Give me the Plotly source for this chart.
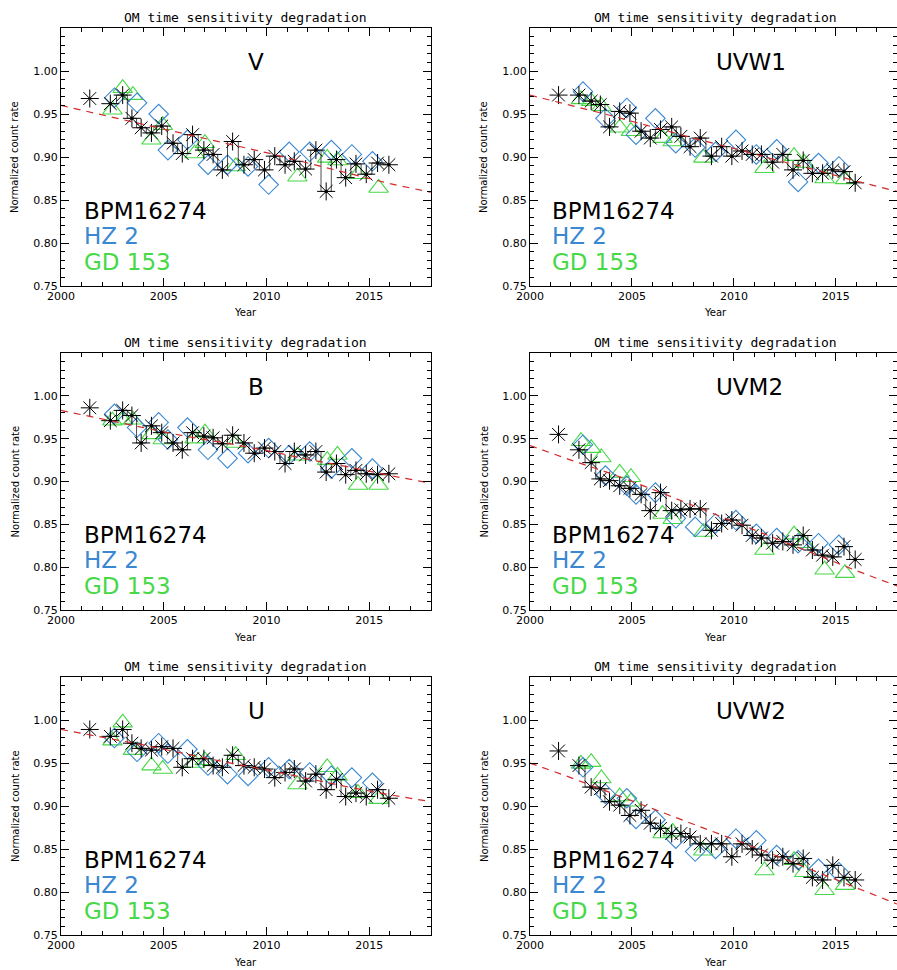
import plotly.graph_objects as go

# ---------------- data ----------------
FILTERS = ["V", "UVW1", "B", "UVM2", "U", "UVW2"]
STARS = ["BPM16274", "HZ 2", "GD 153"]

YEARS_BPM = [2001.4, 2002.4, 2003.0, 2003.45, 2003.9, 2004.4, 2004.9, 2005.45, 2005.9,
             2006.4, 2006.95, 2007.4, 2007.85, 2008.35, 2008.9, 2009.4, 2009.9, 2010.4,
             2010.9, 2011.35, 2011.9, 2012.4, 2012.9, 2013.4, 2013.85, 2014.35, 2014.85,
             2015.4, 2015.95]

BPM_V = [0.968, 0.962, 0.972, 0.945, 0.934, 0.928, 0.936, 0.916, 0.904, 0.926, 0.908, 0.903,
         0.885, 0.918, 0.891, 0.897, 0.885, 0.901, 0.891, 0.895, 0.886, 0.908, 0.860, 0.897,
         0.876, 0.892, 0.880, 0.893, 0.891]
BPM_UVW1 = [0.972, 0.972, 0.965, 0.961, 0.935, 0.953, 0.951, 0.930, 0.922, 0.932, 0.935, 0.924,
            0.912, 0.922, 0.901, 0.912, 0.901, 0.907, 0.903, 0.903, 0.894, 0.903, 0.885, 0.896,
            0.881, 0.881, 0.885, 0.883, 0.870]
BPM_B = [0.986, 0.971, 0.983, 0.977, 0.945, 0.965, 0.957, 0.945, 0.937, 0.957, 0.953, 0.951,
         0.944, 0.954, 0.945, 0.933, 0.939, 0.935, 0.921, 0.935, 0.931, 0.935, 0.911, 0.921,
         0.908, 0.913, 0.909, 0.908, 0.909]
BPM_UVM2 = [0.955, 0.937, 0.922, 0.903, 0.901, 0.895, 0.892, 0.885, 0.866, 0.887, 0.866, 0.867,
            0.868, 0.868, 0.843, 0.851, 0.855, 0.849, 0.837, 0.834, 0.828, 0.830, 0.826, 0.837,
            0.820, 0.814, 0.812, 0.824, 0.809]
BPM_U = [0.989, 0.981, 0.989, 0.973, 0.967, 0.965, 0.969, 0.967, 0.945, 0.955, 0.955, 0.947,
         0.945, 0.959, 0.947, 0.945, 0.943, 0.933, 0.939, 0.943, 0.929, 0.937, 0.919, 0.931,
         0.911, 0.915, 0.911, 0.919, 0.909]
BPM_UVW2 = [0.964, 0.947, 0.922, 0.920, 0.905, 0.901, 0.889, 0.895, 0.880, 0.874, 0.868, 0.868,
            0.864, 0.856, 0.856, 0.856, 0.841, 0.856, 0.850, 0.843, 0.837, 0.841, 0.833, 0.839,
            0.817, 0.814, 0.831, 0.817, 0.814]

YEARS_HZ2 = [2002.6, 2003.7, 2004.75, 2005.2, 2006.15, 2007.15, 2008.1, 2009.1, 2010.1,
             2011.1, 2012.1, 2013.15, 2014.15, 2015.15]
HZ2_V = [0.969, 0.963, 0.950, 0.908, 0.920, 0.891, 0.891, 0.889, 0.868, 0.906, 0.906, 0.908,
         0.903, 0.895]
HZ2_UVW1 = [0.976, 0.945, 0.957, 0.926, 0.945, 0.916, 0.911, 0.906, 0.920, 0.903, 0.909, 0.871,
            0.893, 0.889]
HZ2_B = [0.979, 0.963, 0.969, 0.949, 0.963, 0.937, 0.927, 0.933, 0.939, 0.931, 0.935, 0.915,
         0.927, 0.915]
HZ2_UVM2 = [0.943, 0.907, 0.895, 0.885, 0.887, 0.857, 0.847, 0.851, 0.855, 0.839, 0.834, 0.828,
            0.828, 0.826]
HZ2_U = [0.979, 0.963, 0.973, 0.961, 0.966, 0.947, 0.937, 0.935, 0.945, 0.943, 0.939, 0.935,
         0.933, 0.927]
HZ2_UVW2 = [0.945, 0.914, 0.909, 0.885, 0.884, 0.862, 0.847, 0.850, 0.862, 0.860, 0.843, 0.837,
            0.827, 0.823]

YEARS_GD153 = [2002.5, 2003.0, 2003.5, 2004.4, 2004.95, 2006.5, 2007.0, 2008.5, 2011.5,
               2012.95, 2013.45, 2014.45, 2015.45]
GD153_V = [0.955, 0.980, 0.972, 0.920, 0.937, 0.904, 0.916, 0.889, 0.877, 0.899, 0.896, 0.880,
           0.864]
GD153_UVW1 = [0.967, 0.965, 0.959, 0.934, 0.930, 0.922, 0.918, 0.899, 0.887, 0.901, 0.893,
              0.875, 0.874]
GD153_B = [0.971, 0.972, 0.972, 0.955, 0.949, 0.950, 0.957, 0.945, 0.930, 0.925, 0.931, 0.896,
           0.896]
GD153_UVM2 = [0.947, 0.939, 0.928, 0.910, 0.905, 0.862, 0.856, 0.841, 0.820, 0.838, 0.828,
              0.797, 0.793]
GD153_U = [0.976, 0.997, 0.965, 0.947, 0.943, 0.950, 0.953, 0.959, 0.925, 0.945, 0.935, 0.915,
           0.908]
GD153_UVW2 = [0.949, 0.951, 0.932, 0.911, 0.905, 0.868, 0.870, 0.848, 0.825, 0.837, 0.823,
              0.802, 0.808]

FIT_YEARS = [2000, 2002, 2004, 2006, 2008, 2010, 2012, 2014, 2016, 2018]
FIT_V = [0.960, 0.949, 0.938, 0.927, 0.916, 0.905, 0.893, 0.881, 0.869, 0.859]
FIT_UVW1 = [0.972, 0.960, 0.948, 0.935, 0.922, 0.910, 0.897, 0.885, 0.872, 0.860]
FIT_B = [0.983, 0.973, 0.963, 0.953, 0.945, 0.936, 0.926, 0.917, 0.907, 0.898]
FIT_UVM2 = [0.942, 0.925, 0.909, 0.891, 0.872, 0.853, 0.834, 0.815, 0.796, 0.778]
FIT_U = [0.989, 0.980, 0.971, 0.961, 0.951, 0.942, 0.932, 0.922, 0.913, 0.905]
FIT_UVW2 = [0.950, 0.933, 0.915, 0.897, 0.879, 0.861, 0.843, 0.824, 0.805, 0.786]

BPM = {"V": BPM_V, "UVW1": BPM_UVW1, "B": BPM_B, "UVM2": BPM_UVM2, "U": BPM_U, "UVW2": BPM_UVW2}
HZ2 = {"V": HZ2_V, "UVW1": HZ2_UVW1, "B": HZ2_B, "UVM2": HZ2_UVM2, "U": HZ2_U, "UVW2": HZ2_UVW2}
GD153 = {"V": GD153_V, "UVW1": GD153_UVW1, "B": GD153_B, "UVM2": GD153_UVM2, "U": GD153_U,
         "UVW2": GD153_UVW2}
FIT = {"V": FIT_V, "UVW1": FIT_UVW1, "B": FIT_B, "UVM2": FIT_UVM2, "U": FIT_U, "UVW2": FIT_UVW2}

X_TICKS = [2000, 2005, 2010, 2015]
Y_TICKS = [0.75, 0.80, 0.85, 0.90, 0.95, 1.00]
TITLE = "OM time sensitivity degradation"

# ---------------- layout ----------------
W, H = 897, 970
BLACK = "#000000"
BLUE = "#3a88d2"
GREEN = "#46d846"
RED = "#d42a2a"
FONT = "DejaVu Sans"
MONO = "DejaVu Sans Mono"

# pixel frames: (left, right, top, bottom)
FRAMES = [(61, 431, 28, 286), (530, 900, 28, 286),
          (61, 431, 353, 610), (530, 900, 353, 610),
          (61, 431, 677, 935), (530, 900, 677, 935)]

fig = go.Figure()
annotations = []

for i, f in enumerate(FILTERS):
    n = i + 1
    xa = "x" if n == 1 else f"x{n}"
    ya = "y" if n == 1 else f"y{n}"
    l, r, t, b = FRAMES[i]
    xdom = [l / W, min(r / W, 1.0)]
    ydom = [1 - b / H, 1 - t / H]

    fig.add_trace(go.Scatter(x=YEARS_GD153, y=GD153[f], mode="markers", xaxis=xa, yaxis=ya,
                             marker=dict(symbol="triangle-up-open", size=17,
                                         color=GREEN, line=dict(width=1.1, color=GREEN)),
                             showlegend=False))
    fig.add_trace(go.Scatter(x=YEARS_HZ2, y=HZ2[f], mode="markers", xaxis=xa, yaxis=ya,
                             marker=dict(symbol="diamond-open", size=15,
                                         color=BLUE, line=dict(width=1.1, color=BLUE)),
                             showlegend=False))
    fig.add_trace(go.Scatter(x=YEARS_BPM[1:], y=BPM[f][1:], mode="lines+markers",
                             xaxis=xa, yaxis=ya,
                             line=dict(shape="hvh", color=BLACK, width=0.7),
                             marker=dict(symbol="circle", size=3.5, color=BLACK),
                             showlegend=False))
    fig.add_trace(go.Scatter(x=YEARS_BPM, y=BPM[f], mode="markers", xaxis=xa, yaxis=ya,
                             marker=dict(symbol="asterisk-open", size=15,
                                         color=BLACK, line=dict(width=1, color=BLACK)),
                             showlegend=False))
    fig.add_trace(go.Scatter(x=FIT_YEARS, y=FIT[f], mode="lines", xaxis=xa, yaxis=ya,
                             line=dict(color=RED, width=1.2, dash="7px,6px"),
                             showlegend=False))

    axis_common = dict(showline=True, linecolor=BLACK, linewidth=1, mirror="allticks",
                       ticks="inside", tickcolor=BLACK, showgrid=False, zeroline=False,
                       automargin=False,
                       tickfont=dict(family=FONT, size=11, color=BLACK))
    fig.update_layout(**{
        ("xaxis" if n == 1 else f"xaxis{n}"): dict(
            domain=xdom, anchor=ya, range=[2000, 2018], tickvals=X_TICKS,
            ticklen=8, minor=dict(dtick=1, ticklen=4, ticks="inside", tickcolor=BLACK),
            **axis_common),
        ("yaxis" if n == 1 else f"yaxis{n}"): dict(
            domain=ydom, anchor=xa, range=[0.75, 1.05], tickvals=Y_TICKS,
            tickformat=".2f", ticklen=8,
            minor=dict(dtick=0.01, tick0=0.75, ticklen=4, ticks="inside", tickcolor=BLACK),
            **axis_common),
    })

    cxp = (l + l + 370) / 2 / W
    annotations.append(dict(text=TITLE, xref="paper", yref="paper", x=cxp,
                            y=1 - (t - 11) / H, xanchor="center", yanchor="middle",
                            showarrow=False, font=dict(family=MONO, size=13, color=BLACK)))
    annotations.append(dict(text="Year", xref="paper", yref="paper", x=cxp,
                            y=1 - (b + 27) / H, xanchor="center", yanchor="middle",
                            showarrow=False, font=dict(family=FONT, size=10, color=BLACK)))
    annotations.append(dict(text="Normalized count rate", xref="paper", yref="paper",
                            x=(l - 46) / W, y=1 - (t + b) / 2 / H, textangle=-90,
                            xanchor="center", yanchor="middle", showarrow=False,
                            font=dict(family=FONT, size=10, color=BLACK)))
    annotations.append(dict(text=f, xref=xa, yref=ya, x=2009.0, y=1.010, xanchor="left",
                            yanchor="middle", showarrow=False,
                            font=dict(family=FONT, size=23, color=BLACK)))
    for s, yv, col in zip(STARS, [0.837, 0.808, 0.778], [BLACK, BLUE, GREEN]):
        annotations.append(dict(text=s, xref=xa, yref=ya, x=2001.0, y=yv, xanchor="left",
                                yanchor="middle", showarrow=False,
                                font=dict(family=FONT, size=23, color=col)))

fig.update_layout(width=W, height=H, margin=dict(l=0, r=0, t=0, b=0),
                  paper_bgcolor="white", plot_bgcolor="white", annotations=annotations)

fig.write_html("out.html", config={"displayModeBar": False},
               post_script="document.body.style.margin='0px';"
                           "document.body.style.overflow='hidden';")
